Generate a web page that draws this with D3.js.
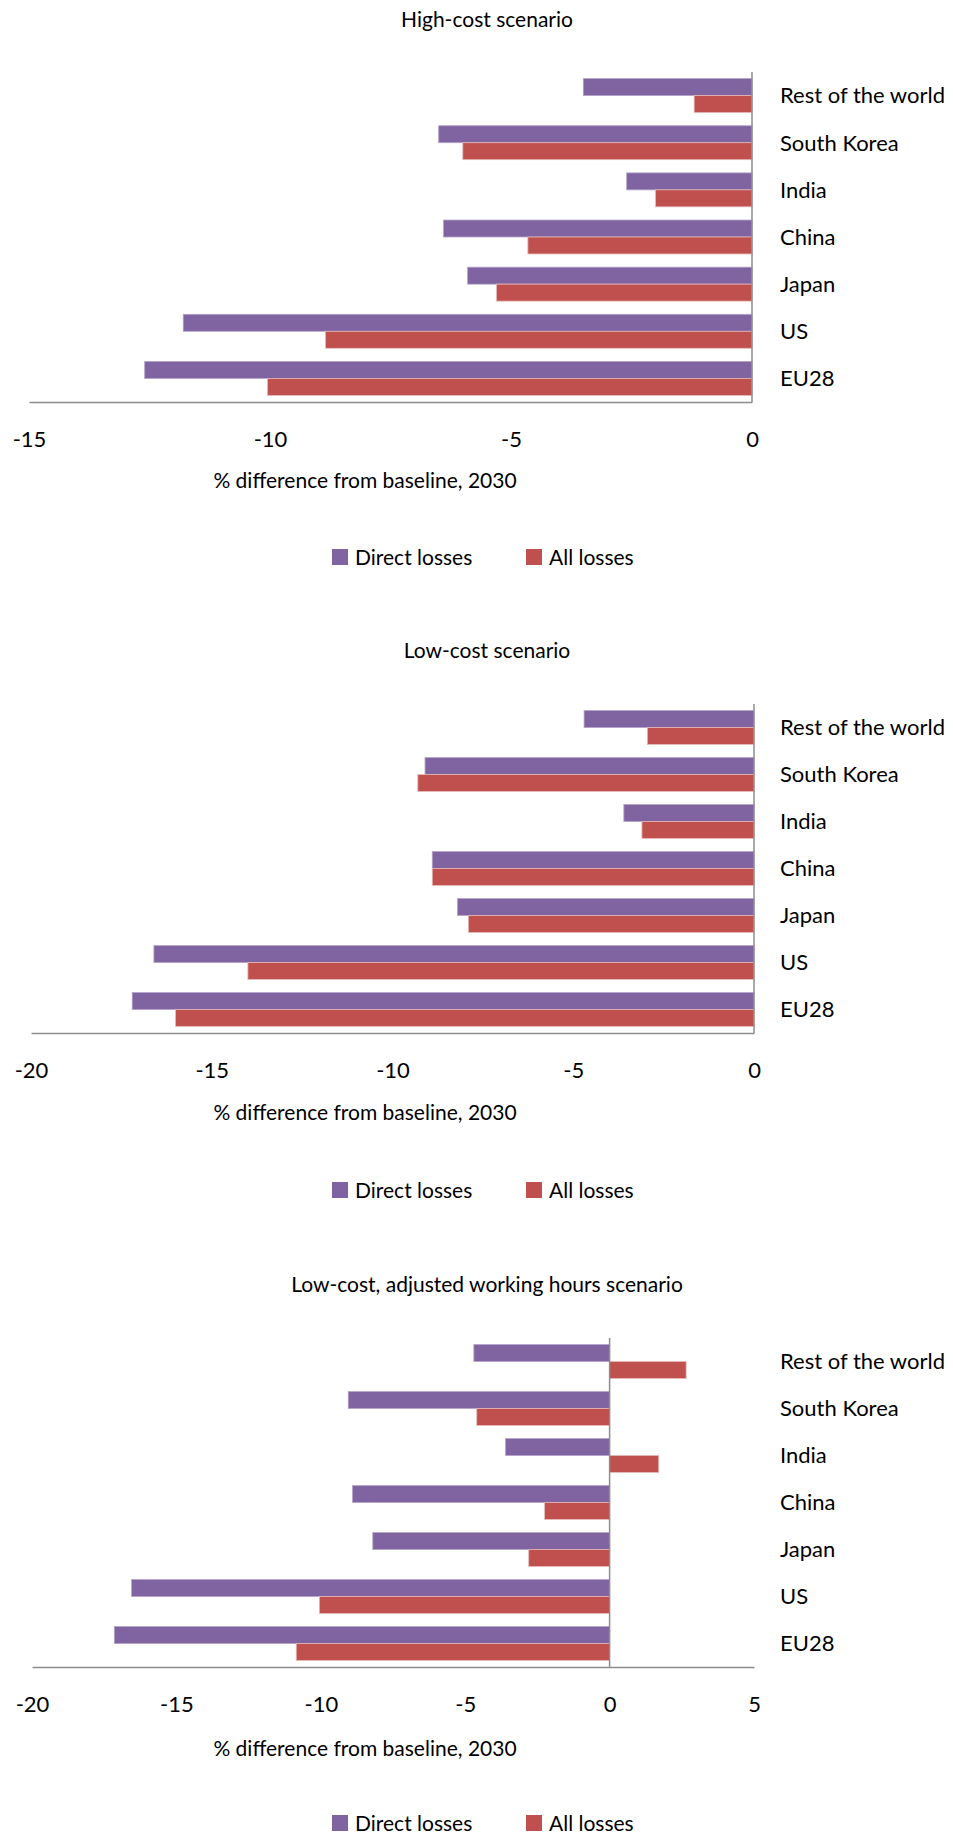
<!DOCTYPE html>
<html>
<head>
  <meta charset="utf-8">
  <title>Losses by scenario</title>
  <script src="https://d3js.org/d3.v7.min.js"></script>
  <style>
    body { margin: 0; background: #fff; }
    text { font-family: Lato, "Open Sans", sans-serif; fill: #000; }
  </style>
</head>
<body>
  <div id="canvas"></div>

  <script>
    // Data
    var categories = ["Rest of the world", "South Korea", "India", "China", "Japan", "US", "EU28"];
    var seriesNames = ["Direct losses", "All losses"];

    var highDirect = [-3.5, -6.5, -2.6, -6.4, -5.9, -11.8, -12.6];
    var highAll    = [-1.2, -6.0, -2.0, -4.65, -5.3, -8.85, -10.05];

    var lowDirect  = [-4.7, -9.1, -3.6, -8.9, -8.2, -16.6, -17.2];
    var lowAll     = [-2.95, -9.3, -3.1, -8.9, -7.9, -14.0, -16.0];

    var adjDirect  = [-4.7, -9.05, -3.6, -8.9, -8.2, -16.55, -17.15];
    var adjAll     = [2.65, -4.6, 1.7, -2.25, -2.8, -10.05, -10.85];

    var highTicks = [-15, -10, -5, 0];
    var lowTicks  = [-20, -15, -10, -5, 0];
    var adjTicks  = [-20, -15, -10, -5, 0, 5];

    var titles = ["High-cost scenario", "Low-cost scenario", "Low-cost, adjusted working hours scenario"];
    var axisTitle = "% difference from baseline, 2030";

    // Canvas
    var width = 953, height = 1834;
    var colors = ["#8064A2", "#C0504D"];
    var edges = ["#B3A2C7", "#E6B9B8"];

    var svg = d3.select("#canvas")
      .append("svg")
        .attr("width", width)
        .attr("height", height);

    function drawChart(cfg) {
      var g = svg.append("g");

      var x = d3.scaleLinear()
        .domain([cfg.ticks[0], cfg.ticks[cfg.ticks.length - 1]])
        .range([cfg.left, cfg.right]);

      var y = d3.scaleBand()
        .domain(categories)
        .range([cfg.top, cfg.bottom])
        .paddingInner(0.28)
        .paddingOuter(0.14);

      var sub = d3.scaleBand()
        .domain(seriesNames)
        .range([0, y.bandwidth()]);

      // title
      g.append("text")
        .text(cfg.title)
          .attr("x", 487)
          .attr("y", cfg.titleY)
          .attr("dy", "0.35em")
          .attr("text-anchor", "middle")
          .style("font-size", "21px");

      // bars
      var series = [cfg.direct, cfg.all];
      series.forEach(function(vals, s) {
        g.append("g")
          .selectAll("rect")
          .data(vals)
          .enter()
          .append("rect")
            .attr("x", function(d) { return x(Math.min(0, d)); })
            .attr("y", function(d, i) { return y(categories[i]) + sub(seriesNames[s]); })
            .attr("width", function(d) { return Math.abs(x(d) - x(0)); })
            .attr("height", sub.bandwidth())
            .style("fill", colors[s])
            .style("stroke", edges[s])
            .style("stroke-width", 0.8);
      });

      // vertical zero line
      g.append("line")
        .attr("x1", x(0)).attr("x2", x(0))
        .attr("y1", cfg.top).attr("y2", cfg.bottom)
        .style("stroke", "#8c8c8c")
        .style("stroke-width", 1.5);

      // x axis (plain hyphen for negatives, like the original)
      var ax = g.append("g")
        .attr("transform", "translate(0," + cfg.bottom + ")")
        .call(d3.axisBottom(x)
          .tickValues(cfg.ticks)
          .tickFormat(function(d) { return String(d); })
          .tickSize(0)
          .tickPadding(29));
      ax.select(".domain").style("stroke", "#8c8c8c").style("stroke-width", 1.5);
      ax.selectAll("text")
        .style("font-family", "Lato, sans-serif")
        .style("font-size", "22px")
        .style("fill", "#000");

      // category labels
      g.append("g")
        .selectAll("text")
        .data(categories)
        .enter()
        .append("text")
          .text(function(d) { return d; })
          .attr("x", 780)
          .attr("y", function(d) { return y(d) + y.bandwidth() / 2; })
          .attr("dy", "0.36em")
          .style("font-size", "22px");

      // axis title
      g.append("text")
        .text(axisTitle)
          .attr("x", 365)
          .attr("y", cfg.axisTitleY)
          .attr("dy", "0.35em")
          .attr("text-anchor", "middle")
          .style("font-size", "21px");

      // legend
      var leg = g.append("g");
      var legX = [332, 526];
      seriesNames.forEach(function(name, s) {
        leg.append("rect")
          .attr("x", legX[s])
          .attr("y", cfg.legendY - 8)
          .attr("width", 16)
          .attr("height", 16)
          .style("fill", colors[s]);
        leg.append("text")
          .text(name)
            .attr("x", legX[s] + 23)
            .attr("y", cfg.legendY)
            .attr("dy", "0.36em")
            .style("font-size", "21px");
      });
    }

    drawChart({ title: titles[0], direct: highDirect, all: highAll, ticks: highTicks,
      left: 29, right: 752, top: 72, bottom: 402, titleY: 20, axisTitleY: 481, legendY: 557 });
    drawChart({ title: titles[1], direct: lowDirect, all: lowAll, ticks: lowTicks,
      left: 31, right: 754, top: 704, bottom: 1033, titleY: 651, axisTitleY: 1113, legendY: 1190 });
    drawChart({ title: titles[2], direct: adjDirect, all: adjAll, ticks: adjTicks,
      left: 32, right: 754, top: 1338, bottom: 1667, titleY: 1285, axisTitleY: 1749, legendY: 1823 });
  </script>
</body>
</html>
